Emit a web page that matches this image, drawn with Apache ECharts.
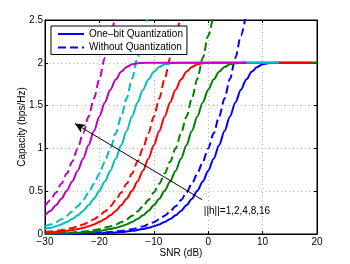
<!DOCTYPE html>
<html><head><meta charset="utf-8">
<script src="https://cdn.jsdelivr.net/npm/echarts@6/dist/echarts.min.js"></script>
<style>html,body{margin:0;padding:0;background:#fff}#c{width:350px;height:264px}</style>
</head><body><div id="c"></div>
<script>
// ---- data (SNR in dB, capacity in bps/Hz) ----
const hLabels = ['1', '2', '4', '8', '16'];
const seriesColors = ['#0000ff', '#008000', '#ff0000', '#00bfbf', '#bf00bf'];

const oneBitH1 = [[-30,0.001],[-26,0.0023],[-22,0.0058],[-20,0.0092],[-18,0.0146],[-16,0.023],[-14,0.0366],[-12,0.057],[-11,0.072],[-10,0.090],[-9,0.112],[-8,0.140],[-7,0.175],[-6,0.218],[-5,0.270],[-4,0.335],[-3,0.412],[-2,0.504],[-1,0.613],[0,0.738],[1,0.880],[2,1.037],[3,1.203],[4,1.373],[5,1.537],[6,1.684],[7,1.805],[8,1.894],[9,1.951],[10,1.982],[11,1.995],[12,1.999],[13,2],[20,2]];
const oneBitH2 = [[-30,0.0037],[-28,0.0058],[-26,0.0092],[-24,0.0146],[-22,0.023],[-20,0.0366],[-18,0.057],[-17,0.072],[-16,0.090],[-15,0.112],[-14,0.140],[-13,0.175],[-12,0.218],[-11,0.270],[-10,0.335],[-9,0.412],[-8,0.504],[-7,0.613],[-6,0.738],[-5,0.880],[-4,1.037],[-3,1.203],[-2,1.373],[-1,1.537],[0,1.684],[1,1.805],[2,1.894],[3,1.951],[4,1.982],[5,1.995],[6,1.999],[7,2],[20,2]];
const oneBitH4 = [[-30,0.0146],[-29,0.0183],[-28,0.023],[-27,0.029],[-26,0.0366],[-25,0.0457],[-24,0.057],[-23,0.072],[-22,0.090],[-21,0.112],[-20,0.140],[-19,0.175],[-18,0.218],[-17,0.270],[-16,0.335],[-15,0.412],[-14,0.504],[-13,0.613],[-12,0.738],[-11,0.880],[-10,1.037],[-9,1.203],[-8,1.373],[-7,1.537],[-6,1.684],[-5,1.805],[-4,1.894],[-3,1.951],[-2,1.982],[-1,1.995],[0,1.999],[1,2],[19,2]];
const oneBitH8 = [[-30,0.057],[-29,0.072],[-28,0.090],[-27,0.112],[-26,0.140],[-25,0.175],[-24,0.218],[-23,0.270],[-22,0.335],[-21,0.412],[-20,0.504],[-19,0.613],[-18,0.738],[-17,0.880],[-16,1.037],[-15,1.203],[-14,1.373],[-13,1.537],[-12,1.684],[-11,1.805],[-10,1.894],[-9,1.951],[-8,1.982],[-7,1.995],[-6,1.999],[-5,2],[13,2]];
const oneBitH16 = [[-30,0.218],[-29,0.270],[-28,0.335],[-27,0.412],[-26,0.504],[-25,0.613],[-24,0.738],[-23,0.880],[-22,1.037],[-21,1.203],[-20,1.373],[-19,1.537],[-18,1.684],[-17,1.805],[-16,1.894],[-15,1.951],[-14,1.982],[-13,1.995],[-12,1.999],[-11,2],[7,2]];

const noQuantH1 = [[-30,0.0014],[-26,0.0036],[-22,0.0091],[-20,0.0144],[-18,0.0227],[-16,0.0358],[-14,0.0563],[-12,0.0883],[-11,0.1103],[-10,0.1375],[-9,0.171],[-8,0.2124],[-7,0.2628],[-6,0.3233],[-5,0.3959],[-4,0.4834],[-3,0.5864],[-2,0.7059],[-1,0.8436],[0,1],[1,1.1756],[2,1.3702],[3,1.5826],[4,1.8124],[5,2.0573],[6,2.3165],[7,2.5879]];
const noQuantH2 = [[-30,0.0057],[-28,0.0091],[-26,0.0144],[-24,0.0227],[-22,0.0358],[-20,0.0563],[-18,0.0883],[-17,0.1103],[-16,0.1375],[-15,0.171],[-14,0.2124],[-13,0.2628],[-12,0.3233],[-11,0.3959],[-10,0.4834],[-9,0.5864],[-8,0.7059],[-7,0.8436],[-6,1],[-5,1.1756],[-4,1.3702],[-3,1.5826],[-2,1.8124],[-1,2.0573],[0,2.3165],[1,2.5879]];
const noQuantH4 = [[-30,0.0227],[-29,0.0285],[-28,0.0358],[-27,0.0449],[-26,0.0563],[-25,0.0705],[-24,0.0883],[-23,0.1103],[-22,0.1375],[-21,0.171],[-20,0.2124],[-19,0.2628],[-18,0.3233],[-17,0.3959],[-16,0.4834],[-15,0.5864],[-14,0.7059],[-13,0.8436],[-12,1],[-11,1.1756],[-10,1.3702],[-9,1.5826],[-8,1.8124],[-7,2.0573],[-6,2.3165],[-5,2.5879]];
const noQuantH8 = [[-30,0.0883],[-29,0.1103],[-28,0.1375],[-27,0.171],[-26,0.2124],[-25,0.2628],[-24,0.3233],[-23,0.3959],[-22,0.4834],[-21,0.5864],[-20,0.7059],[-19,0.8436],[-18,1],[-17,1.1756],[-16,1.3702],[-15,1.5826],[-14,1.8124],[-13,2.0573],[-12,2.3165],[-11,2.5879]];
const noQuantH16 = [[-30,0.3233],[-29,0.3959],[-28,0.4834],[-27,0.5864],[-26,0.7059],[-25,0.8436],[-24,1],[-23,1.1756],[-22,1.3702],[-21,1.5826],[-20,1.8124],[-19,2.0573],[-18,2.3165],[-17,2.5879]];

const legendNames = ['One\u2013bit Quantization', 'Without Quantization'];
const annotationText = '||h||=1,2,4,8,16';
const arrowStart = [-1.1, 0.40];
const arrowEnd = [-24.5, 1.29];
const annotationAt = [-0.8, 0.26];

// ---- chart ----
const FONT = "'Liberation Sans', Arial, Helvetica, sans-serif";
const oneBit = [oneBitH1, oneBitH2, oneBitH4, oneBitH8, oneBitH16];
const noQuant = [noQuantH1, noQuantH2, noQuantH4, noQuantH8, noQuantH16];
const minus = v => String(v).replace('-', '\u2212');

const series = [];
hLabels.forEach((h, i) => {
  series.push({
    type: 'line', name: i === 0 ? legendNames[0] : 'one-bit |h|=' + h,
    data: oneBit[i], showSymbol: false, symbol: 'none', smooth: 0.3, smoothMonotone: 'x',
    lineStyle: { color: seriesColors[i], width: 2 }, itemStyle: { color: seriesColors[i] },
    animation: false, silent: true
  });
  series.push({
    type: 'line', name: i === 0 ? legendNames[1] : 'no-quant |h|=' + h,
    data: noQuant[i], showSymbol: false, symbol: 'none', smooth: 0.3, smoothMonotone: 'x',
    lineStyle: { color: seriesColors[i], width: 2, type: [8, 4] }, itemStyle: { color: seriesColors[i] },
    animation: false, silent: true
  });
});
// annotation arrow + text
series.push({
  type: 'line', data: [], animation: false, silent: true,
  markLine: {
    silent: true, animation: false,
    symbol: ['none', 'arrow'], symbolSize: [7, 10],
    label: { show: false },
    lineStyle: { color: '#000', width: 1, type: 'solid' },
    data: [[{ coord: arrowStart }, { coord: arrowEnd }]]
  },
  markPoint: {
    silent: true, animation: false, symbol: 'circle', symbolSize: 0,
    label: { show: true, position: 'right', distance: 0, formatter: annotationText,
             color: '#000', fontSize: 10, fontFamily: FONT },
    data: [{ coord: annotationAt }]
  }
});

const axisLineStyle = { show: true, onZero: false, lineStyle: { color: '#000', width: 1 } };
const tickStyle = { show: true, inside: true, length: 3, lineStyle: { color: '#000' } };
const gridLineStyle = { show: true, lineStyle: { color: '#b8b8b8', type: [1, 3], width: 1 } };

const chart = echarts.init(document.getElementById('c'), null, { renderer: 'canvas' });
chart.setOption({
  animation: false,
  textStyle: { fontFamily: FONT },
  grid: { left: 45, right: 33, top: 20, bottom: 30, show: true, borderColor: '#000', borderWidth: 1, backgroundColor: '#fff' },
  legend: {
    data: legendNames, orient: 'vertical', left: 51, top: 26,
    backgroundColor: '#fff', borderColor: '#000', borderWidth: 1, borderRadius: 0,
    padding: [3, 4, 2, 6], itemGap: 3.5, itemWidth: 26, itemHeight: 10,
    itemStyle: { opacity: 0 },
    textStyle: { fontSize: 10, color: '#000', fontFamily: FONT }
  },
  xAxis: [{
    type: 'value', min: -30, max: 20, interval: 10,
    name: 'SNR (dB)', nameLocation: 'middle', nameGap: 14, nameMoveOverlap: false,
    nameTextStyle: { fontSize: 10, color: '#000', fontFamily: FONT },
    axisLine: axisLineStyle, axisTick: tickStyle,
    axisLabel: { fontSize: 10, color: '#000', margin: 3, formatter: minus, fontFamily: FONT },
    splitLine: gridLineStyle
  }, {
    type: 'value', min: -30, max: 20, interval: 10, position: 'top',
    axisLine: axisLineStyle, axisTick: tickStyle,
    axisLabel: { show: false }, splitLine: { show: false }
  }],
  yAxis: [{
    type: 'value', min: 0, max: 2.5, interval: 0.5,
    name: 'Capacity (bps/Hz)', nameLocation: 'middle', nameGap: 18, nameMoveOverlap: false,
    nameTextStyle: { fontSize: 10, color: '#000', fontFamily: FONT },
    axisLine: axisLineStyle, axisTick: tickStyle,
    axisLabel: { fontSize: 10, color: '#000', margin: 2, fontFamily: FONT },
    splitLine: gridLineStyle
  }, {
    type: 'value', min: 0, max: 2.5, interval: 0.5, position: 'right',
    axisLine: axisLineStyle, axisTick: tickStyle,
    axisLabel: { show: false }, splitLine: { show: false }
  }],
  series: series
});
</script>
</body></html>
